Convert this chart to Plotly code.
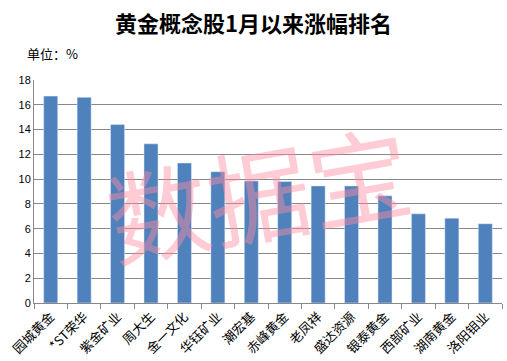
import plotly.graph_objects as go

categories = ["园城黄金", "*ST荣华", "紫金矿业", "周大生", "金一文化", "华钰矿业", "潮宏基",
              "赤峰黄金", "老凤祥", "盛达资源", "银泰黄金", "西部矿业", "湖南黄金", "洛阳钼业"]
values = [16.7, 16.6, 14.4, 12.85, 11.3, 10.6, 9.85, 9.8, 9.45, 9.45, 8.65, 7.2, 6.85, 6.4]
y_ticks = [0, 2, 4, 6, 8, 10, 12, 14, 16, 18]

FONT = "Noto Sans CJK SC"

fig = go.Figure(go.Bar(x=categories, y=values, marker_color="#4F81BD", width=0.42))

fig.update_layout(
    width=507, height=361,
    margin=dict(l=34, r=5, t=80, b=58),
    paper_bgcolor="white", plot_bgcolor="white",
    showlegend=False,
    font=dict(family=FONT, color="black"),
    xaxis=dict(type="category", showline=True, linecolor="#888888", linewidth=1,
               ticks="outside", tickson="boundaries", ticklen=5, tickcolor="#888888",
               tickangle=-45, tickfont=dict(size=13, family=FONT), showgrid=False),
    yaxis=dict(range=[0, 18], tickvals=y_ticks, showline=True, linecolor="#888888",
               gridcolor="#888888", gridwidth=1, tickfont=dict(size=11, family="Liberation Sans"),
               ticks="", zeroline=False),
)

fig.add_annotation(text="<b>黄金概念股1月以来涨幅排名</b>", xref="paper", yref="paper",
                   x=(253 - 34) / 468, y=1 + (80 - 22) / 223, showarrow=False,
                   font=dict(size=22, family=FONT, color="black"), xanchor="center", yanchor="middle")
fig.add_annotation(text="单位：%", xref="paper", yref="paper",
                   x=(25 - 34) / 468, y=1 + (80 - 53) / 223, showarrow=False,
                   font=dict(size=13, family=FONT, color="black"), xanchor="left", yanchor="middle")
fig.add_annotation(text="数据宝", xref="paper", yref="paper",
                   x=(258 - 34) / 468, y=(303 - 190) / 223, showarrow=False, textangle=-10,
                   font=dict(size=102, family=FONT, color="rgba(255,140,160,0.45)"),
                   xanchor="center", yanchor="middle")

fig.write_html("out.html")
